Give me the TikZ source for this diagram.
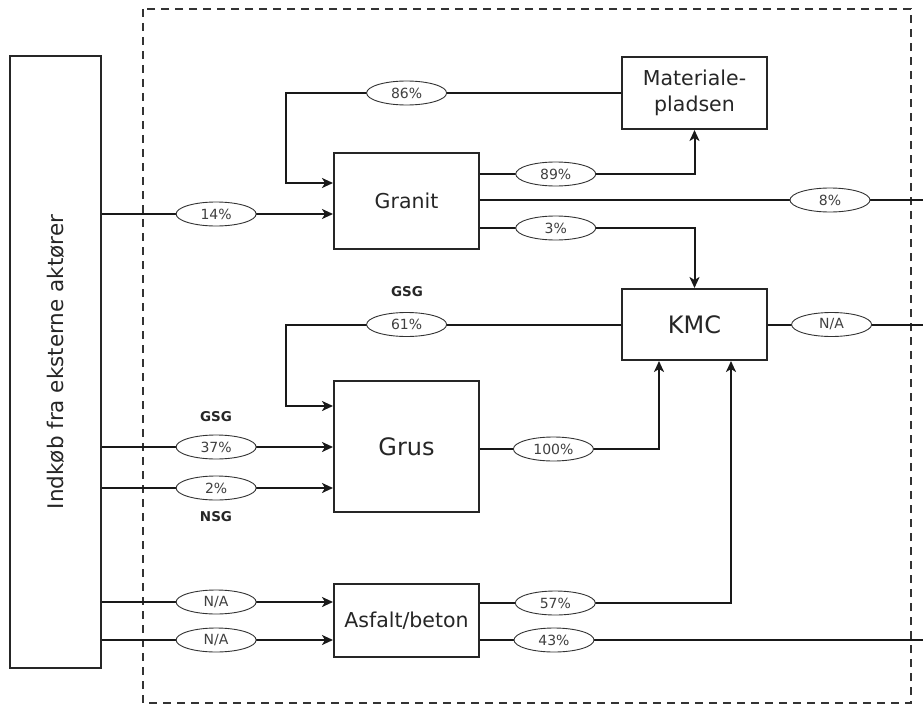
\documentclass[tikz,border=0pt]{standalone}
\usepackage{fontspec}
\setmainfont{DejaVu Sans}
\usetikzlibrary{shapes.geometric,arrows.meta}
\begin{document}
\begin{tikzpicture}[x=1pt,y=-1pt,
  box/.style={draw=black!85, line width=2pt, minimum width=145pt, inner sep=0pt, align=center, text=black!85},
  pct/.style={ellipse, draw=black!80, line width=0.9pt, fill=white, minimum width=80pt, minimum height=24pt, inner sep=0pt, font=\fontsize{14}{14}\selectfont, text=black!75},
  flow/.style={line width=2pt, draw=black!90},
  arr/.style={flow, -{Stealth[length=11pt,width=10pt,inset=3pt]}},
  lab/.style={font=\bfseries\fontsize{13.5}{13.5}\selectfont, text=black!85},
  frame/.style={draw=black!80, line width=2pt, dash pattern=on 8pt off 6pt}
]
\useasboundingbox (0,0) rectangle (923,706);
\draw[frame] (143,9) rectangle (911,703);

\node[box, minimum width=91pt, minimum height=612pt] (Ext) at (55.5,362)
  {\rotatebox{90}{\fontsize{21.5}{21.5}\selectfont Indkøb fra eksterne aktører}};
\node[box, minimum height=96pt, font=\fontsize{20.5}{20.5}\selectfont] (Granit) at (406.5,201) {Granit};
\node[box, minimum height=72pt, font=\fontsize{20.5}{26}\selectfont] (Mat) at (694.5,93) {Materiale-\\pladsen};
\node[box, minimum height=71pt, font=\fontsize{24}{24}\selectfont] (KMC) at (694.5,324.5) {KMC};
\node[box, minimum height=131pt, font=\fontsize{24}{24}\selectfont] (Grus) at (406.5,446.5) {Grus};
\node[box, minimum height=73pt, font=\fontsize{20.5}{20.5}\selectfont] (Asf) at (406.5,620.5) {Asfalt/beton};

\coordinate (o1) at (923,200);
\coordinate (o2) at (923,324.5);
\coordinate (o3) at (923,640);

% Granit inputs
\draw[arr] (Ext.east |- 0,214) -- node[pct,pos=0.494]{14\%} (Granit.west |- 0,214);
\draw[arr] (Mat.west) -- node[pct,pos=0.64]{86\%} (286,93) |- (Granit.west |- 0,183);
% Granit outputs
\draw[arr] (Granit.east |- 0,174) -- node[pct,pos=0.353]{89\%} (Mat.south |- 0,174) -- (Mat.south);
\draw[flow] (Granit.east |- 0,200) -- node[pct,pos=0.79]{8\%} (o1);
\draw[arr] (Granit.east |- 0,228) -- node[pct,pos=0.353]{3\%} (KMC.north |- 0,228) -- (KMC.north);
% KMC
\draw[arr] (KMC.west) -- node[pct,pos=0.64]{61\%} (286,324.5) |- (Grus.west |- 0,406);
\node[lab] (gsg1) at (407,292) {GSG};
\draw[flow] (KMC.east) -- node[pct,pos=0.41]{N/A} (o2);
% Grus
\draw[arr] (Ext.east |- 0,447) -- node[pct,pos=0.494]{37\%} (Grus.west |- 0,447);
\draw[arr] (Ext.east |- 0,488) -- node[pct,pos=0.494]{2\%} (Grus.west |- 0,488);
\node[lab] (gsg2) at (216,417) {GSG};
\node[lab] (nsg) at (216,517) {NSG};
\draw[arr] (Grus.east |- 0,449) -- node[pct,pos=0.41]{100\%} (659,449) -- (KMC.south -| 659,0);
% Asfalt
\draw[arr] (Ext.east |- 0,602) -- node[pct,pos=0.494]{N/A} (Asf.west |- 0,602);
\draw[arr] (Ext.east |- 0,640) -- node[pct,pos=0.494]{N/A} (Asf.west |- 0,640);
\draw[arr] (Asf.east |- 0,603) -- node[pct,pos=0.30]{57\%} (731,603) -- (KMC.south -| 731,0);
\draw[flow] (Asf.east |- 0,640) -- node[pct,pos=0.167]{43\%} (o3);
\end{tikzpicture}
\end{document}
